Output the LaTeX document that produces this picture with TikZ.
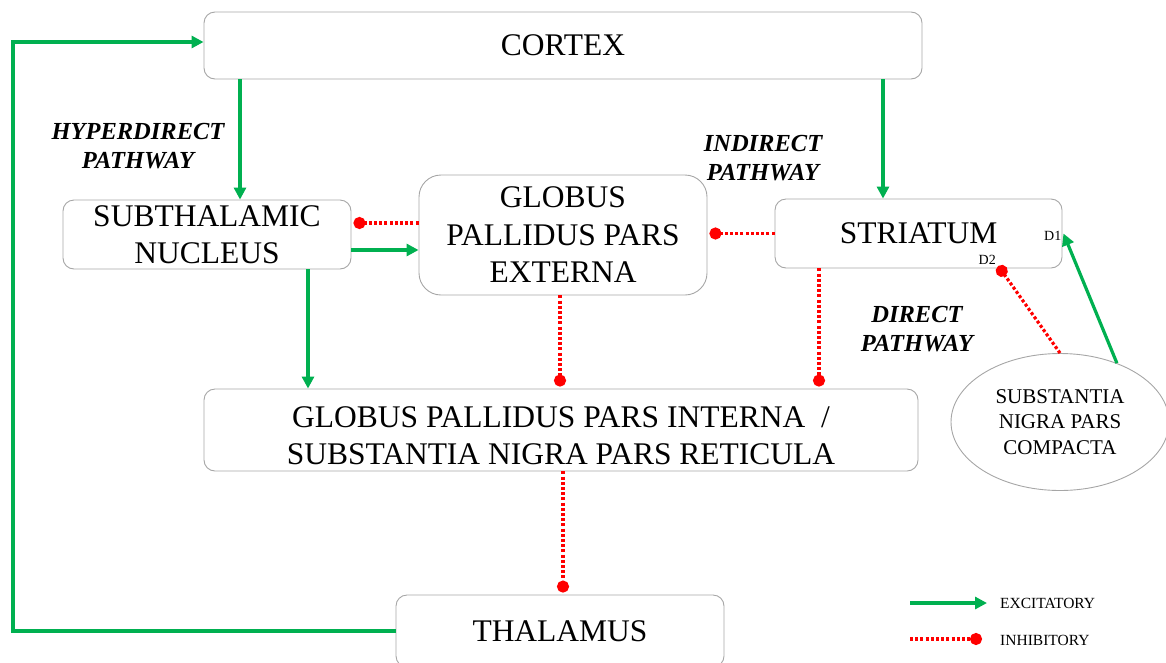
\documentclass[tikz,border=0pt]{standalone}
\usepackage{fontspec}
\setmainfont{Liberation Serif}
\usetikzlibrary{arrows.meta,shapes.geometric}

\definecolor{excgreen}{HTML}{00B050}
\definecolor{inhred}{HTML}{FF0000}
\definecolor{boxgray}{HTML}{A6A6A6}

\tikzset{
  region/.style={draw=boxgray, line width=0.9pt, rounded corners=11pt, inner sep=0pt,
    align=center, font=\fontsize{31.5}{37.5}\selectfont},
  pathlabel/.style={align=center, inner sep=0pt,
    font=\fontsize{24.5}{29}\selectfont\bfseries\itshape},
  exc/.style={draw=excgreen, line width=3.2pt,
    -{Triangle[length=12pt,width=12pt]}},
  inh/.style={draw=inhred, line width=3.2pt, dash pattern=on 3pt off 2.2pt,
    -{Circle[length=12pt,width=12pt,sep=0pt]}, shorten >=2pt},
  receptor/.style={inner sep=0pt, font=\fontsize{14}{16}\selectfont},
  legendtext/.style={inner sep=0pt, anchor=west, font=\fontsize{15.5}{18}\selectfont}
}

\begin{document}
\begin{tikzpicture}[x=1pt, y=-1pt]
\useasboundingbox (0,0) rectangle (1166,662);

% regions of the basal ganglia loop
\node[region, minimum width=718pt, minimum height=67pt] (cortex) at (563,45.5) {CORTEX};
\node[region, minimum width=288pt, minimum height=69pt] (stn) at (207,234.5) {SUBTHALAMIC\\NUCLEUS};
\node[region, rounded corners=22pt, minimum width=288pt, minimum height=120pt] (gpe) at (563,235) {GLOBUS\\PALLIDUS PARS\\EXTERNA};
\node[region, minimum width=287pt, minimum height=69pt] (str) at (918.5,233.5) {STRIATUM};
\node[region, minimum width=714pt, minimum height=82pt] (gpi) at (561,430) {\rule{0pt}{32pt}GLOBUS PALLIDUS PARS INTERNA~~/\\SUBSTANTIA NIGRA PARS RETICULA};
\node[region, minimum width=328pt, minimum height=72pt] (thal) at (560,631) {THALAMUS};
\node[draw=boxgray, line width=0.9pt, ellipse, minimum width=218pt, minimum height=137pt,
  inner sep=0pt, align=center, font=\fontsize{21}{25.5}\selectfont] (snc) at (1060,422)
  {SUBSTANTIA\\NIGRA PARS\\COMPACTA};

% dopamine receptor labels on the striatum
\node[receptor, anchor=east] (d1) at ([xshift=-1pt,yshift=-2pt]str.east) {D1};
\node[receptor, anchor=east] (d2) at (996,260) {D2};

% pathway labels
\node[pathlabel] (hyper) at (138,146) {HYPERDIRECT\\PATHWAY};
\node[pathlabel] (indir) at (763,158) {INDIRECT\\PATHWAY};
\node[pathlabel] (direct) at (917,329) {DIRECT\\PATHWAY};

% excitatory projections
\draw[exc] (cortex.south -| 240,0) -- (stn.north -| 240,0);
\draw[exc] (cortex.south -| 883,0) -- (str.north -| 883,0);
\draw[exc] (stn.east |- 0,250) -- (gpe.west |- 0,250);
\draw[exc] (stn.south -| 308,0) -- (gpi.north -| 308,0);
\draw[exc] (snc.46) -- ([xshift=1pt]str.east);
\coordinate (fbcorner1) at (13,631);
\coordinate (fbcorner2) at (13,42);
\draw[exc] (thal.west) -- (fbcorner1) -- (fbcorner2) -- (cortex.west |- fbcorner2);

% inhibitory projections
\draw[inh] (gpe.west |- 0,223) -- (stn.east |- 0,223);
\draw[inh] (str.west) -- (gpe.east |- str.west);
\draw[inh] (gpe.south -| 560,0) -- (gpi.north -| 560,0);
\draw[inh] (str.south -| 819,0) -- (gpi.north -| 819,0);
\draw[inh] (gpi.south -| 563,0) -- (thal.north -| 563,0);
\draw[inh, shorten >=-3pt] (snc.north) -- (str.south -| 1000,0);

% legend
\coordinate (excstart) at (910,603);
\coordinate (excend) at (987,603);
\coordinate (inhstart) at (910,639);
\coordinate (inhend) at (984,639);
\draw[exc] (excstart) -- (excend);
\draw[inh] (inhstart) -- (inhend);
\node[legendtext] (exclabel) at (1000,603) {EXCITATORY};
\node[legendtext] (inhlabel) at (1000,640) {INHIBITORY};
\end{tikzpicture}
\end{document}
